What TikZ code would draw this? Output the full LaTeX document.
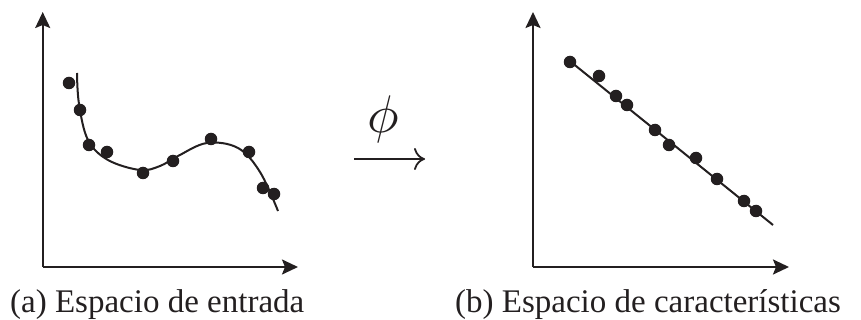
\documentclass[tikz,border=0pt]{standalone}
\usepackage{fontspec}
\setmainfont{Liberation Serif}
\usetikzlibrary{arrows.meta}
\definecolor{ink}{HTML}{231F20}
\begin{document}
\begin{tikzpicture}[x=1pt,y=-1pt,
  axis/.style={ink,line width=2.2pt,-{Stealth[length=16pt,width=15pt,inset=3pt]}},
  fitline/.style={ink,line width=2pt},
  dot/.style={circle,fill=ink,inner sep=0pt,minimum size=12.5pt},
  caption/.style={anchor=base west,text=ink,font=\fontsize{33}{33}\selectfont,inner sep=0pt}]
\useasboundingbox (0,0) rectangle (861,320);

% left panel: input space
\coordinate (oa) at (42.7,267);
\coordinate (ya) at (42.7,12);
\coordinate (xa) at (298,267);
\draw[axis] (oa) -- (ya);
\draw[axis] (oa) -- (xa);
\draw[fitline] plot[smooth,tension=0.6] coordinates
  {(77,73) (79,104) (88,140) (108,160) (140,170) (160,166) (178,156) (207,143) (238,148) (260,172) (278,211)};
\foreach \n/\p in {a1/{(69,83)},a2/{(80,110)},a3/{(89,145)},a4/{(107,152)},a5/{(143,173)},
                   a6/{(173,161)},a7/{(211,139)},a8/{(249,152)},a9/{(263,188)},a10/{(274,194)}}
  \node[dot] (\n) at \p {};

% mapping arrow
\coordinate (ms) at (354,159);
\coordinate (me) at (425,159);
\draw[ink,line width=1.8pt,-{Computer Modern Rightarrow[length=11pt,width=22pt]}] (ms) -- (me);
\node[text=ink,inner sep=0pt] (phi) at (383,119) {\scalebox{5.3}{$\phi$}};

% right panel: feature space
\coordinate (ob) at (533,267);
\coordinate (yb) at (533,12);
\coordinate (xb) at (789,267);
\draw[axis] (ob) -- (yb);
\draw[axis] (ob) -- (xb);
\coordinate (l0) at (571,62);
\coordinate (l1) at (773,225);
\draw[fitline] (l0) -- (l1);
\foreach \n/\p in {b1/{(570,62)},b2/{(599,76)},b3/{(616,96)},b4/{(627,105)},b5/{(655,130)},
                   b6/{(669,145)},b7/{(696,158)},b8/{(717,179)},b9/{(744,201)},b10/{(756,211)}}
  \node[dot] (\n) at \p {};

% captions
\node[caption] (capa) at (10,312) {(a) Espacio de entrada};
\node[caption] (capb) at (455,312) {(b) Espacio de características};
\end{tikzpicture}
\end{document}
